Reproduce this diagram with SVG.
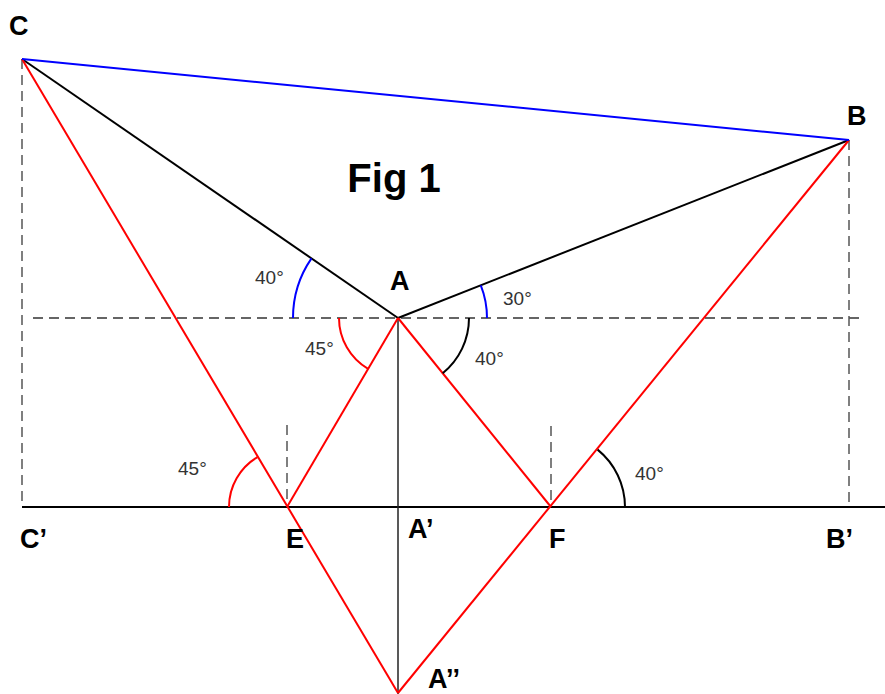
<svg xmlns="http://www.w3.org/2000/svg" width="885" height="694" viewBox="0 0 885 694">
<style>
.lbl{font-family:"Liberation Sans",Arial,sans-serif;font-weight:bold;font-size:27px;fill:#000}
.ang{font-family:"Liberation Sans",Arial,sans-serif;font-size:19px;fill:#333}
.dash{stroke:#555;stroke-width:1.5;stroke-dasharray:10 6;fill:none}
.blk{stroke:#000;stroke-width:2;fill:none}
.red{stroke:#ff0000;stroke-width:2;fill:none}
.blue{stroke:#0000ff;stroke-width:2;fill:none}
</style>
<rect width="885" height="694" fill="#fff"/>
<g id="connectors">
  <line class="dash" stroke="#333" style="stroke:#333" x1="33" y1="318" x2="862" y2="318"/>
  <line class="dash" x1="22" y1="59" x2="22" y2="507"/>
  <line class="dash" x1="849" y1="140" x2="849" y2="507"/>
  <line class="dash" x1="287" y1="425" x2="287" y2="507"/>
  <line class="dash" x1="551" y1="426" x2="551" y2="507"/>
  <line class="blk" x1="22" y1="507" x2="885" y2="507"/>
  <line stroke="#222" stroke-width="1.5" x1="398" y1="318" x2="398" y2="694"/>
  <line class="blk" x1="22" y1="59" x2="398" y2="318"/>
  <line class="blk" x1="398" y1="318" x2="849" y2="140"/>
  <line class="red" x1="22" y1="59" x2="398" y2="693"/>
  <line class="red" x1="849" y1="140" x2="398" y2="693"/>
  <line class="red" x1="398" y1="318" x2="287" y2="507"/>
  <line class="red" x1="398" y1="318" x2="551" y2="507"/>
  <line class="blue" x1="22" y1="59" x2="849" y2="140"/>
  <path class="blue" d="M293,318 A105,105 0 0 1 311.5,258.4"/>
  <path class="blue" d="M487,318 A89,89 0 0 0 480.8,285.3"/>
  <path class="red" d="M339,318 A59,59 0 0 0 368.1,368.9"/>
  <path class="blk" d="M469,318 A71,71 0 0 1 442.7,373.2"/>
  <path class="red" d="M229,507 A58,58 0 0 1 257.5,457.1"/>
  <path class="blk" d="M625,507 A74,74 0 0 0 597.6,449.6"/>
</g>
<g id="node-C"><text class="lbl" x="9" y="35">C</text></g>
<g id="node-B"><text class="lbl" x="847" y="125">B</text></g>
<g id="node-A"><text class="lbl" x="390" y="290">A</text></g>
<g id="node-C-prime"><text class="lbl" x="20" y="548">C’</text></g>
<g id="node-E"><text class="lbl" x="286" y="548">E</text></g>
<g id="node-A-prime"><text class="lbl" x="408" y="538">A’</text></g>
<g id="node-F"><text class="lbl" x="549" y="548">F</text></g>
<g id="node-B-prime"><text class="lbl" x="826" y="548">B’</text></g>
<g id="node-A-dprime"><text class="lbl" x="428" y="688">A’’</text></g>
<g id="title"><text class="lbl" x="394" y="192" text-anchor="middle" style="font-size:40px">Fig 1</text></g>
<g id="angle-labels">
  <text class="ang" x="255" y="284">40°</text>
  <text class="ang" x="503" y="305">30°</text>
  <text class="ang" x="305" y="355">45°</text>
  <text class="ang" x="475" y="365">40°</text>
  <text class="ang" x="178" y="475">45°</text>
  <text class="ang" x="635" y="480">40°</text>
</g>
</svg>
